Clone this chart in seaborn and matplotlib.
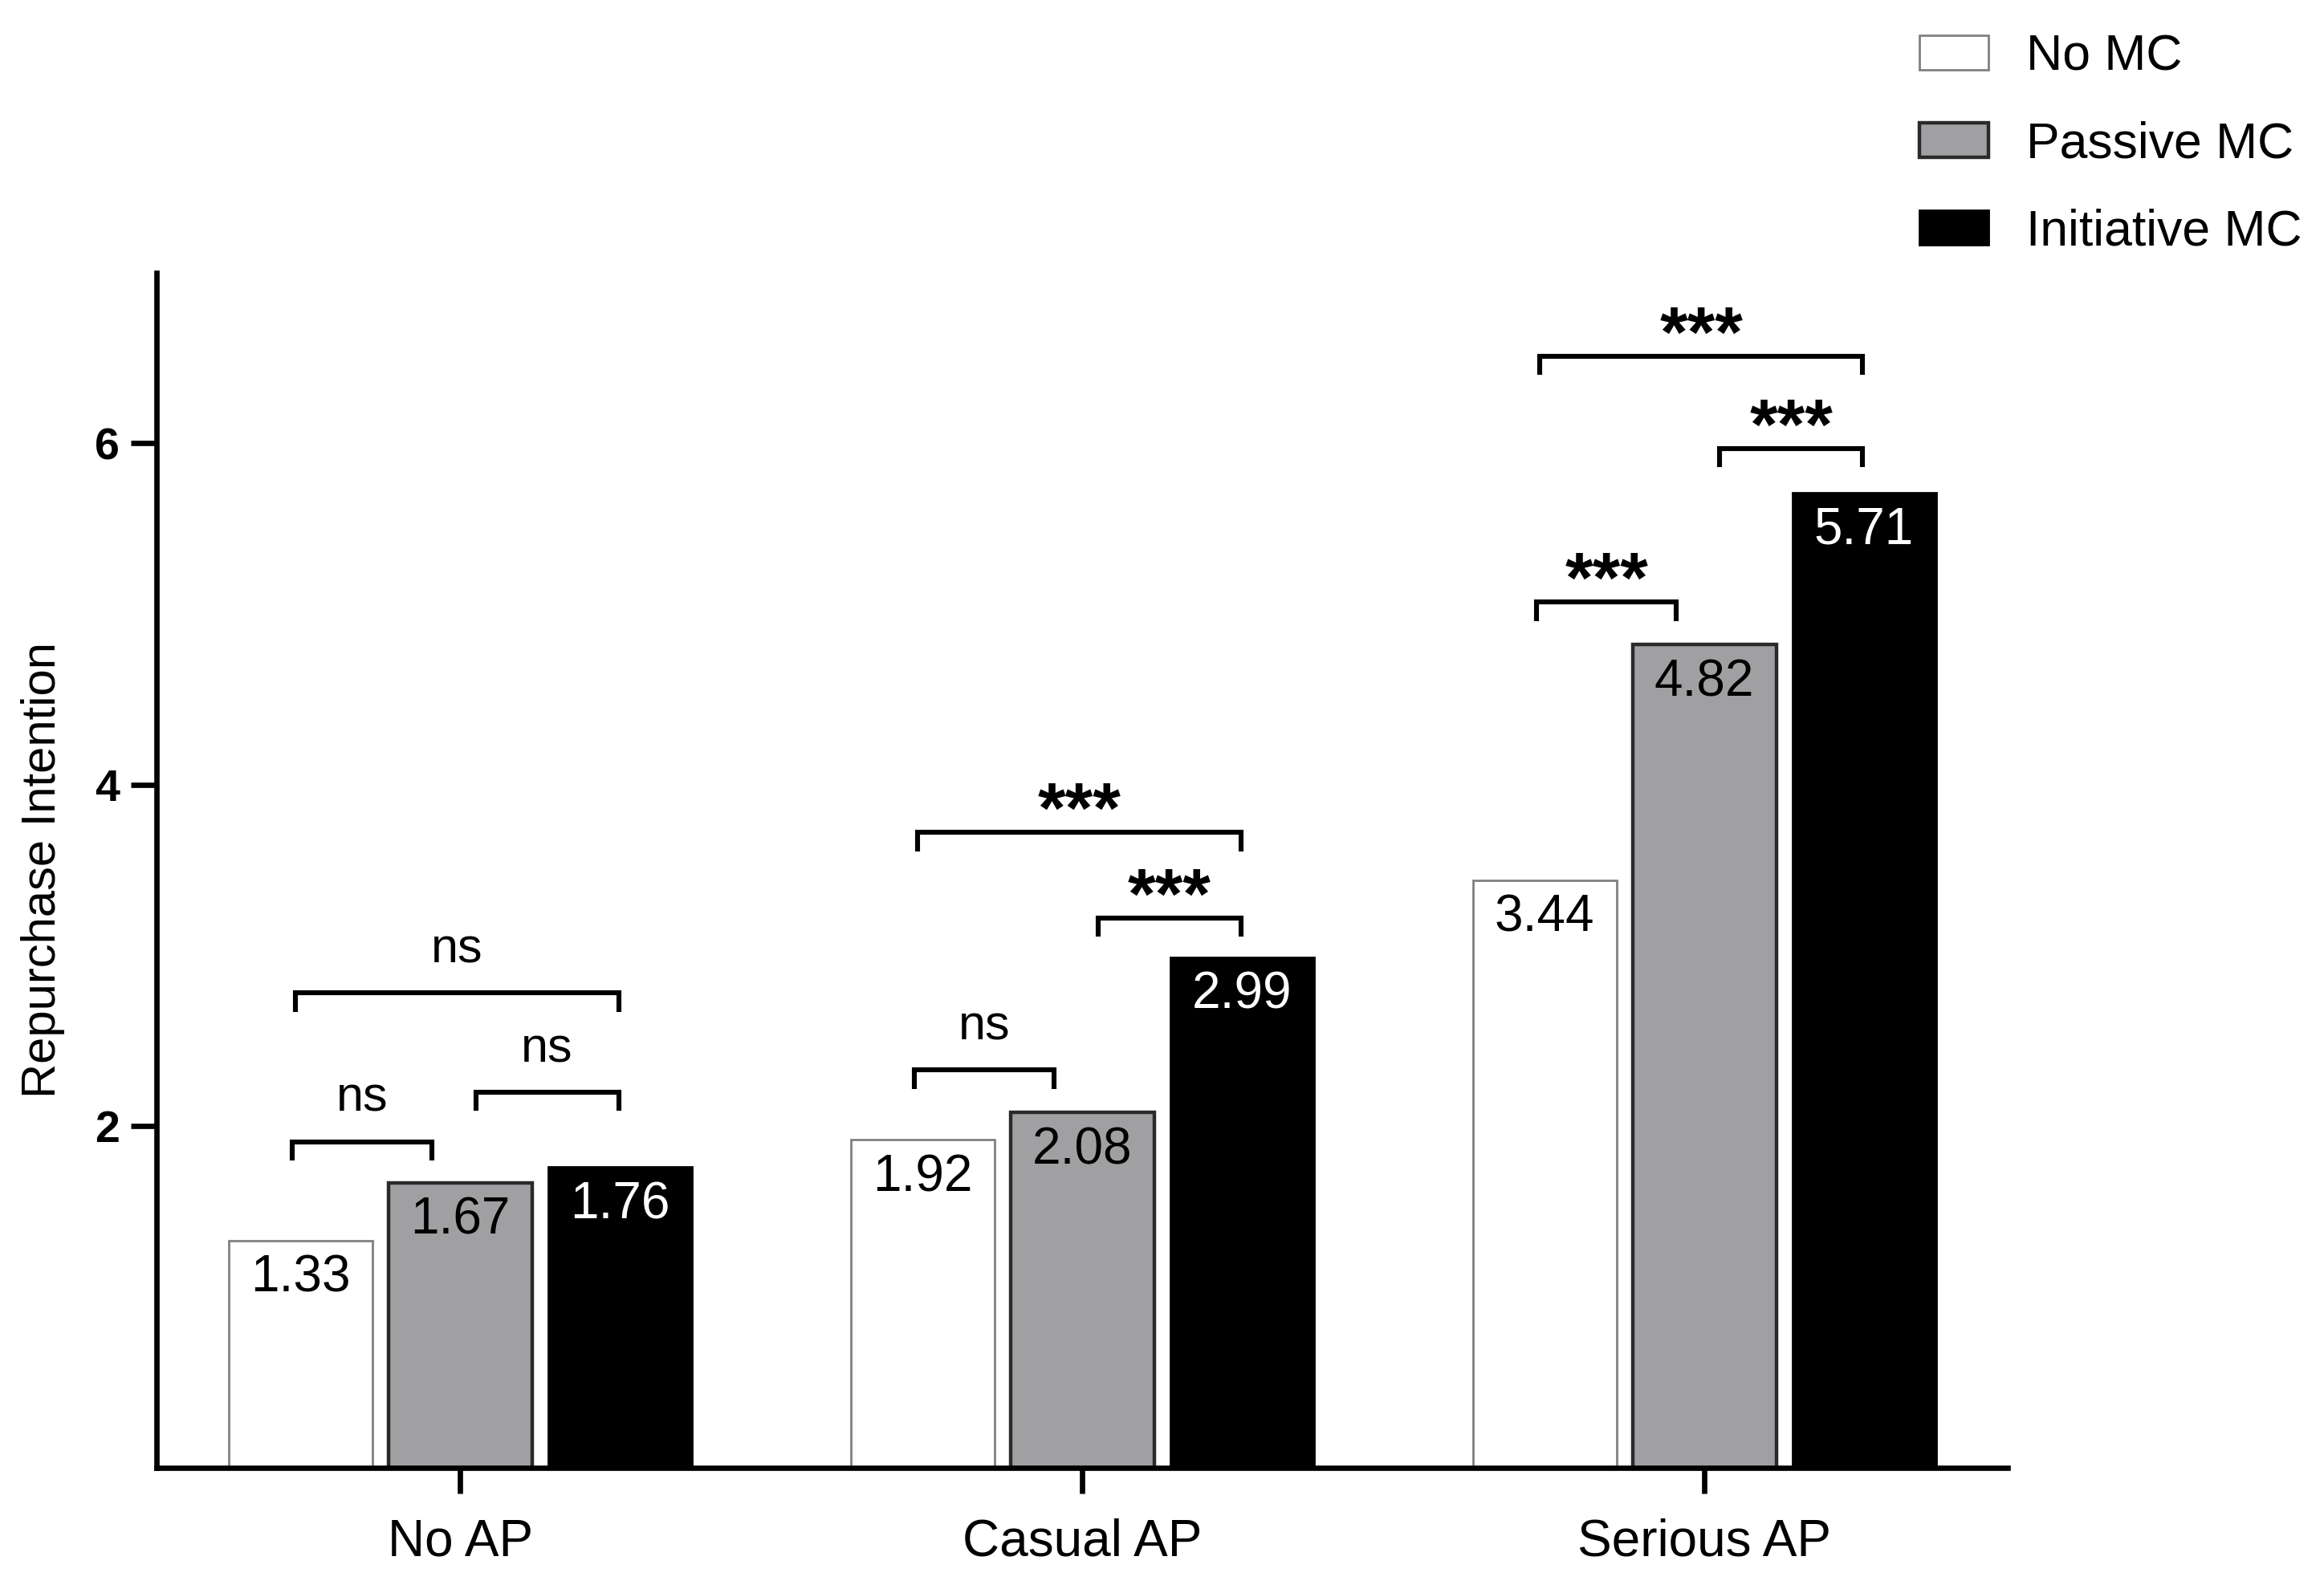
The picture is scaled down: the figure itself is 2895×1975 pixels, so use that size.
import numpy as np
import pandas as pd
import seaborn as sns
import matplotlib.pyplot as plt

# bar values
ap_levels = ['No AP', 'Casual AP', 'Serious AP']
mc_levels = ['No MC', 'Passive MC', 'Initiative MC']
no_mc = [1.33, 1.92, 3.44]
passive_mc = [1.67, 2.08, 4.82]
initiative_mc = [1.76, 2.99, 5.71]

# significance brackets: (category index, bar a, bar b, bracket height, label)
sig_brackets = [
    (0, 0, 1, 1.91, 'ns'), (0, 1, 2, 2.20, 'ns'), (0, 0, 2, 2.78, 'ns'),
    (1, 0, 1, 2.33, 'ns'), (1, 1, 2, 3.22, '***'), (1, 0, 2, 3.72, '***'),
    (2, 0, 1, 5.07, '***'), (2, 1, 2, 5.97, '***'), (2, 0, 2, 6.51, '***'),
]

df = pd.DataFrame({
    'AP': ap_levels * 3,
    'MC': np.repeat(mc_levels, 3),
    'value': no_mc + passive_mc + initiative_mc,
})

sns.set_style('ticks')
plt.rcParams['font.family'] = ['Liberation Sans', 'DejaVu Sans']
plt.rcParams['text.color'] = 'black'
plt.rcParams['axes.labelcolor'] = 'black'

fills = ['white', '#a0a0a3', 'black']
edges = ['#808080', '#2a2a2a', 'black']
edge_lw = [1.0, 1.6, 1.0]
text_colors = ['black', 'black', 'white']

fig, ax = plt.subplots(figsize=(14.475, 9.875), dpi=200)
fig.subplots_adjust(left=0.0674, right=0.864, bottom=0.074, top=0.828)

sns.barplot(data=df, x='AP', y='value', hue='MC', order=ap_levels,
            hue_order=mc_levels, palette=fills, saturation=1,
            width=0.77, gap=0.1, errorbar=None, legend=False, ax=ax)

# edge colours per group and value labels inside the bars
centers = []
for cont, ec, lw, tc in zip(ax.containers, edges, edge_lw, text_colors):
    row = []
    for bar in cont:
        bar.set_edgecolor(ec)
        bar.set_linewidth(lw)
        cx = bar.get_x() + bar.get_width() / 2
        h = bar.get_height()
        row.append(cx)
        ax.text(cx, h - 0.22, f'{h:.2f}', ha='center', va='center',
                color=tc, fontsize=23)
    centers.append(row)

# bracket end offsets relative to bar centres
end_offsets = {(0, 1): (-0.013, -0.045), (1, 2): (0.025, -0.002), (0, 2): (-0.008, -0.002)}
drop = 0.11
for cat, a, b, y, lab in sig_brackets:
    dl, dr = end_offsets[(a, b)]
    x1 = centers[a][cat] + dl
    x2 = centers[b][cat] + dr
    ax.plot([x1, x1, x2, x2], [y - drop, y, y, y - drop], color='black',
            lw=2.2, solid_capstyle='butt', solid_joinstyle='miter')
    if lab == 'ns':
        ax.text((x1 + x2) / 2, y + 0.25, lab, ha='center', va='center',
                fontsize=22, color='black')
    else:
        ax.text((x1 + x2) / 2, y + 0.11, lab, ha='center', va='center',
                fontsize=32, fontweight='bold', color='black')

ax.set_xlim(-0.488, 2.488)
ax.set_ylim(0, 7)
ax.set_yticks([2, 4, 6])
ax.set_xlabel('')
ax.set_ylabel('Repurchase Intention', fontsize=21.5, color='black')
ax.yaxis.set_label_coords(-0.0496, 0.5)

sns.despine(ax=ax)
for side in ['left', 'bottom']:
    ax.spines[side].set_linewidth(2.4)
    ax.spines[side].set_color('black')
ax.tick_params(axis='both', length=11.5, width=2.4, color='black', labelcolor='black')
ax.tick_params(axis='x', labelsize=23, pad=11)
ax.tick_params(axis='y', labelsize=20, pad=5)
for lab in ax.get_yticklabels():
    lab.set_fontweight('bold')

ax.legend(ax.containers, mc_levels, loc='upper left',
          bbox_to_anchor=(0.826, 0.979), bbox_transform=fig.transFigure,
          frameon=False, fontsize=22.5, handlelength=1.37, handleheight=0.67,
          handletextpad=0.75, labelspacing=0.8, borderpad=0, borderaxespad=0)

plt.savefig('out.png', dpi=200)
